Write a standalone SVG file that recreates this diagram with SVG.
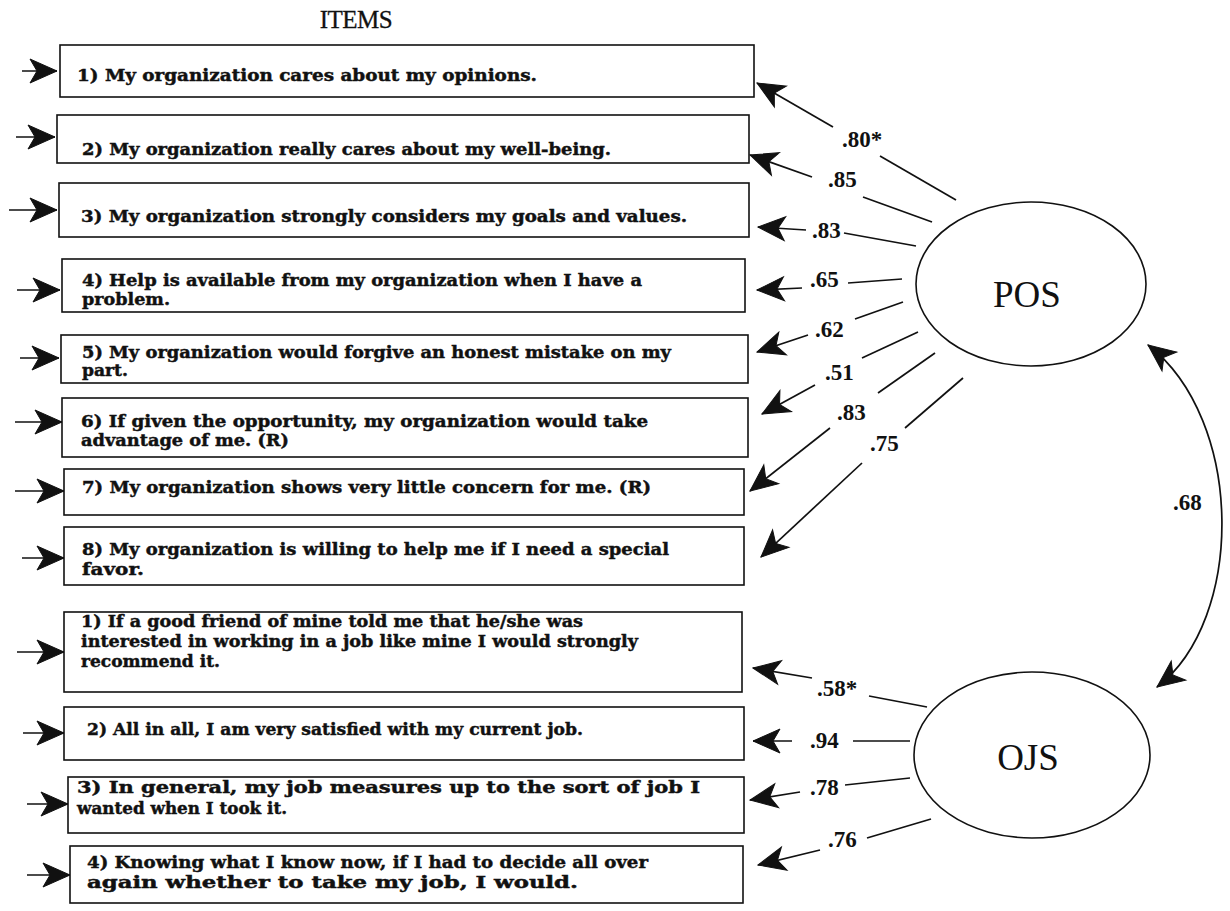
<svg xmlns="http://www.w3.org/2000/svg" width="1230" height="911" viewBox="0 0 1230 911">
<style>
  .bg { fill: #ffffff; }
  .box { fill: #ffffff; stroke: #111; stroke-width: 1.6; }
  .item { font-family: "DejaVu Serif", "Liberation Serif", serif; font-weight: bold; font-size: 16.5px; fill: #111; stroke: #111; stroke-width: 0.45; }
  .lbl { font-family: "Liberation Serif", "Times New Roman", serif; font-weight: bold; font-size: 23px; fill: #111; }
  .title { font-family: "Liberation Serif", "Times New Roman", serif; font-size: 25px; fill: #111; stroke: #111; stroke-width: 0.3; }
  .lat { fill: #ffffff; stroke: #111; stroke-width: 1.6; }
  .latt { font-family: "Liberation Serif", "Times New Roman", serif; font-size: 37px; fill: #111; text-anchor: middle; }
  .ln { fill: none; stroke: #111; stroke-width: 1.7; }
  .arr { marker-end: url(#ah); }
  .head { fill: #111; stroke: #111; stroke-width: 1; stroke-linejoin: miter; }
</style>
<defs>
  <marker id="ah" viewBox="-30 -15 32 30" refX="0" refY="0" markerWidth="32" markerHeight="30" markerUnits="userSpaceOnUse" orient="auto-start-reverse">
    <path class="head" d="M0,0 L-27,-12 L-20,0 L-27,12 Z"/>
  </marker>
</defs>
<rect class="bg" x="0" y="0" width="1230" height="911"/>
<text class="title" x="356" y="28" text-anchor="middle" letter-spacing="-0.5">ITEMS</text>

<g id="pos-item-1">
  <rect class="box" x="60" y="45" width="694" height="52"/>
  <text class="item" x="77" y="81" textLength="460" lengthAdjust="spacingAndGlyphs">1) My organization cares about my opinions.</text>
</g>
<g id="pos-item-2">
  <rect class="box" x="57" y="115" width="692" height="48"/>
  <text class="item" x="82" y="155" textLength="529" lengthAdjust="spacingAndGlyphs">2) My organization really cares about my well-being.</text>
</g>
<g id="pos-item-3">
  <rect class="box" x="59" y="183" width="690" height="54"/>
  <text class="item" x="81" y="222" textLength="606" lengthAdjust="spacingAndGlyphs">3) My organization strongly considers my goals and values.</text>
</g>
<g id="pos-item-4">
  <rect class="box" x="62" y="259" width="683" height="53"/>
  <text class="item" x="82" y="286" textLength="560" lengthAdjust="spacingAndGlyphs">4) Help is available from my organization when I have a</text>
  <text class="item" x="82" y="305" textLength="88" lengthAdjust="spacingAndGlyphs">problem.</text>
</g>
<g id="pos-item-5">
  <rect class="box" x="61" y="335" width="687" height="48"/>
  <text class="item" x="82" y="358" textLength="589" lengthAdjust="spacingAndGlyphs">5) My organization would forgive an honest mistake on my</text>
  <text class="item" x="82" y="376" textLength="46" lengthAdjust="spacingAndGlyphs">part.</text>
</g>
<g id="pos-item-6">
  <rect class="box" x="62" y="398" width="686" height="59"/>
  <text class="item" x="81" y="427" textLength="567" lengthAdjust="spacingAndGlyphs">6) If given the opportunity, my organization would take</text>
  <text class="item" x="81" y="446" textLength="208" lengthAdjust="spacingAndGlyphs">advantage of me. (R)</text>
</g>
<g id="pos-item-7">
  <rect class="box" x="64" y="469" width="680" height="46"/>
  <text class="item" x="82" y="493" textLength="569" lengthAdjust="spacingAndGlyphs">7) My organization shows very little concern for me. (R)</text>
</g>
<g id="pos-item-8">
  <rect class="box" x="64" y="527" width="680" height="58"/>
  <text class="item" x="82" y="555" textLength="587" lengthAdjust="spacingAndGlyphs">8) My organization is willing to help me if I need a special</text>
  <text class="item" x="82" y="575" textLength="62" lengthAdjust="spacingAndGlyphs">favor.</text>
</g>

<g id="ojs-item-1">
  <rect class="box" x="64" y="612" width="678" height="80"/>
  <text class="item" x="81" y="627" textLength="502" lengthAdjust="spacingAndGlyphs">1) If a good friend of mine told me that he/she was</text>
  <text class="item" x="81" y="647" textLength="557" lengthAdjust="spacingAndGlyphs">interested in working in a job like mine I would strongly</text>
  <text class="item" x="81" y="667" textLength="139" lengthAdjust="spacingAndGlyphs">recommend it.</text>
</g>
<g id="ojs-item-2">
  <rect class="box" x="64" y="707" width="680" height="53"/>
  <text class="item" x="87" y="735" textLength="496" lengthAdjust="spacingAndGlyphs">2) All in all, I am very satisfied with my current job.</text>
</g>
<g id="ojs-item-3">
  <rect class="box" x="68" y="777" width="676" height="56"/>
  <text class="item" x="77" y="793" textLength="623" lengthAdjust="spacingAndGlyphs">3) In general, my job measures up to the sort of job I</text>
  <text class="item" x="77" y="814" textLength="210" lengthAdjust="spacingAndGlyphs">wanted when I took it.</text>
</g>
<g id="ojs-item-4">
  <rect class="box" x="70" y="846" width="673" height="57"/>
  <text class="item" x="87" y="868" textLength="561" lengthAdjust="spacingAndGlyphs">4) Knowing what I know now, if I had to decide all over</text>
  <text class="item" x="87" y="888" textLength="491" lengthAdjust="spacingAndGlyphs">again whether to take my job, I would.</text>
</g>

<g id="pos">
  <ellipse class="lat" cx="1031" cy="284" rx="115" ry="82"/>
  <text class="latt" x="1027" y="307">POS</text>
</g>
<g id="ojs">
  <ellipse class="lat" cx="1032" cy="755" rx="118" ry="83"/>
  <text class="latt" x="1028" y="770">OJS</text>
</g>

<g id="connectors">
  <!-- error input arrows -->
  <line class="ln arr" x1="22" y1="71" x2="57" y2="71"/>
  <line class="ln arr" x1="16" y1="137" x2="55" y2="137"/>
  <line class="ln arr" x1="9" y1="210" x2="57" y2="210"/>
  <line class="ln arr" x1="17" y1="290" x2="60" y2="290"/>
  <line class="ln arr" x1="20" y1="358" x2="59" y2="358"/>
  <line class="ln arr" x1="15" y1="422" x2="62" y2="422"/>
  <line class="ln arr" x1="15" y1="491" x2="64" y2="491"/>
  <line class="ln arr" x1="22" y1="558" x2="64" y2="558"/>
  <line class="ln arr" x1="17" y1="652" x2="64" y2="652"/>
  <line class="ln arr" x1="23" y1="733" x2="64" y2="733"/>
  <line class="ln arr" x1="27" y1="804" x2="68" y2="804"/>
  <line class="ln arr" x1="27" y1="875" x2="70" y2="875"/>

  <!-- POS loadings -->
  <line class="ln" x1="956" y1="200" x2="880" y2="156"/>
  <line class="ln arr" x1="833" y1="127" x2="757" y2="83"/>
  <text class="lbl" x="842" y="147">.80*</text>

  <line class="ln" x1="932" y1="222" x2="863" y2="197"/>
  <line class="ln arr" x1="812" y1="177" x2="750" y2="155"/>
  <text class="lbl" x="828" y="187">.85</text>

  <line class="ln" x1="916" y1="246" x2="844" y2="233"/>
  <line class="ln arr" x1="806" y1="230" x2="758" y2="227"/>
  <text class="lbl" x="812" y="238">.83</text>

  <line class="ln" x1="902" y1="279" x2="848" y2="283"/>
  <line class="ln arr" x1="802" y1="288" x2="757" y2="290"/>
  <text class="lbl" x="810" y="287">.65</text>

  <line class="ln" x1="903" y1="302" x2="855" y2="319"/>
  <line class="ln arr" x1="808" y1="335" x2="757" y2="352"/>
  <text class="lbl" x="815" y="337">.62</text>

  <line class="ln" x1="918" y1="332" x2="862" y2="358"/>
  <line class="ln arr" x1="815" y1="385" x2="762" y2="414"/>
  <text class="lbl" x="825" y="380">.51</text>

  <line class="ln" x1="935" y1="353" x2="878" y2="393"/>
  <line class="ln arr" x1="830" y1="428" x2="750" y2="491"/>
  <text class="lbl" x="837" y="420">.83</text>

  <line class="ln" x1="963" y1="378" x2="905" y2="428"/>
  <line class="ln arr" x1="862" y1="463" x2="761" y2="557"/>
  <text class="lbl" x="870" y="451">.75</text>

  <!-- correlation -->
  <path class="ln" d="M1148,345 C1245,420 1245,620 1157,687" marker-start="url(#ah)" marker-end="url(#ah)"/>
  <text class="lbl" x="1173" y="510">.68</text>

  <!-- OJS loadings -->
  <line class="ln" x1="927" y1="707" x2="869" y2="696"/>
  <line class="ln arr" x1="812" y1="678" x2="753" y2="668"/>
  <text class="lbl" x="817" y="696">.58*</text>

  <line class="ln" x1="910" y1="741" x2="853" y2="741"/>
  <line class="ln arr" x1="792" y1="741" x2="753" y2="741"/>
  <text class="lbl" x="810" y="748">.94</text>

  <line class="ln" x1="910" y1="778" x2="845" y2="785"/>
  <line class="ln arr" x1="800" y1="792" x2="750" y2="800"/>
  <text class="lbl" x="810" y="795">.78</text>

  <line class="ln" x1="931" y1="819" x2="867" y2="838"/>
  <line class="ln arr" x1="820" y1="850" x2="758" y2="865"/>
  <text class="lbl" x="828" y="847">.76</text>
</g>
</svg>
